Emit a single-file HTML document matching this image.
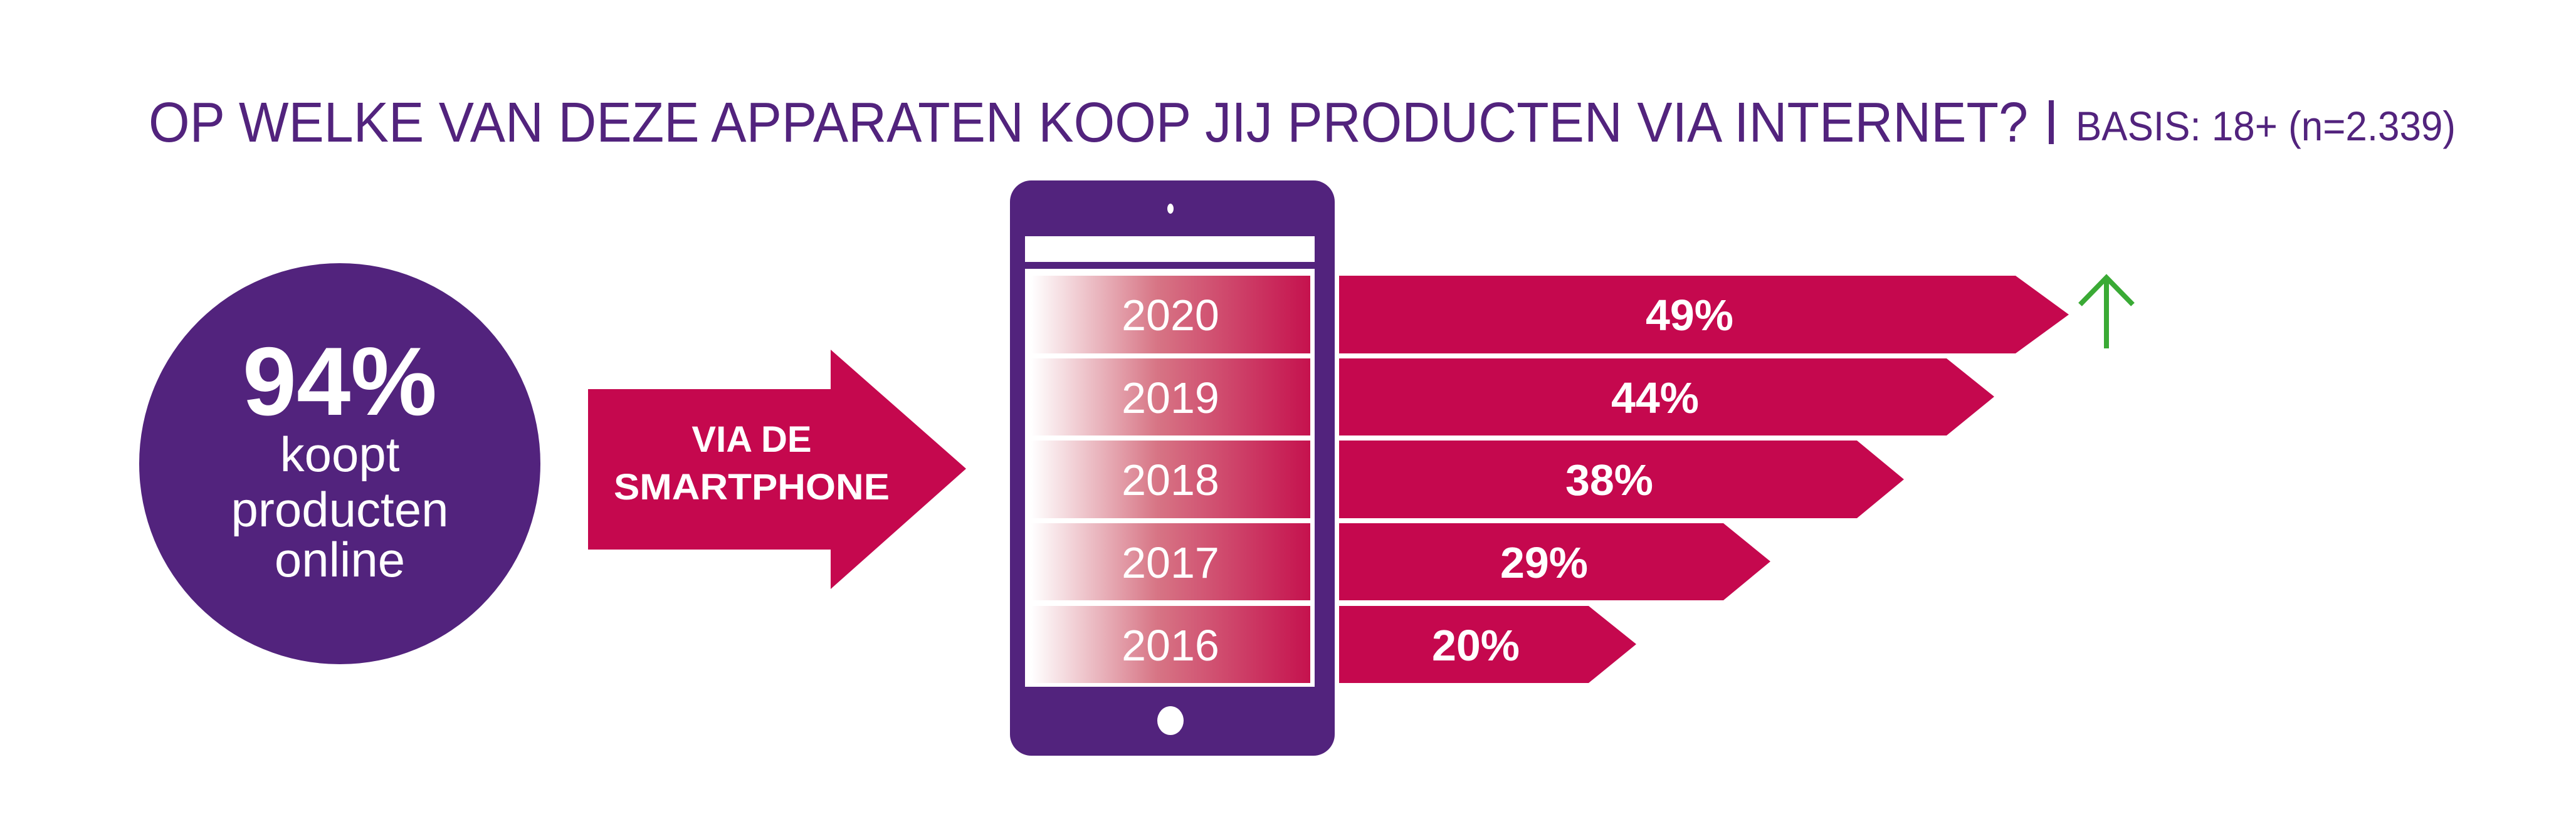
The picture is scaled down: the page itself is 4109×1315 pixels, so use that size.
<!DOCTYPE html>
<html><head><meta charset="utf-8"><style>
html,body{margin:0;padding:0;background:#fff;}
svg{display:block;}
text{font-family:"Liberation Sans",sans-serif;}
</style></head><body>
<svg width="4109" height="1315" viewBox="0 0 4109 1315" xmlns="http://www.w3.org/2000/svg">
<defs>
<linearGradient id="g" x1="0" x2="1" y1="0" y2="0">
<stop offset="0" stop-color="#ffffff"/>
<stop offset="0.45" stop-color="#d77585"/>
<stop offset="1" stop-color="#c5124e"/>
</linearGradient>
</defs>
<!-- title -->
<text x="237" y="226" font-size="90" fill="#52237d" textLength="2998" lengthAdjust="spacingAndGlyphs">OP WELKE VAN DEZE APPARATEN KOOP JIJ PRODUCTEN VIA INTERNET?</text>
<rect x="3268" y="160" width="8" height="70" fill="#52237d"/>
<text x="3311" y="224" font-size="66" fill="#52237d" textLength="606" lengthAdjust="spacingAndGlyphs">BASIS: 18+ (n=2.339)</text>

<!-- circle -->
<circle cx="542" cy="740" r="320" fill="#52237d"/>
<text x="542" y="662" font-size="155" font-weight="bold" fill="#fff" text-anchor="middle">94%</text>
<text x="542" y="752" font-size="78" fill="#fff" text-anchor="middle">koopt</text>
<text x="542" y="840" font-size="78" fill="#fff" text-anchor="middle">producten</text>
<text x="542" y="920" font-size="78" fill="#fff" text-anchor="middle">online</text>

<!-- arrow -->
<polygon points="938,621 1325,621 1325,558 1541,748 1325,940 1325,877 938,877" fill="#c5084e"/>
<text x="1199" y="721" font-size="58" font-weight="bold" fill="#fff" text-anchor="middle">VIA DE</text>
<text x="1199" y="797" font-size="58" font-weight="bold" fill="#fff" text-anchor="middle" textLength="440" lengthAdjust="spacingAndGlyphs">SMARTPHONE</text>

<!-- phone -->
<rect x="1611" y="288" width="518" height="918" rx="34" fill="#52237d"/>
<ellipse cx="1867" cy="333" rx="5" ry="8" fill="#fff"/>
<ellipse cx="1867" cy="1150" rx="21" ry="23" fill="#fff"/>
<rect x="1635" y="377" width="462" height="41" fill="#fff"/>
<rect x="1635" y="429" width="462" height="667" fill="#fff"/>
<g fill="url(#g)">
<rect x="1645" y="440" width="445" height="124"/>
<rect x="1645" y="572" width="445" height="123"/>
<rect x="1645" y="703" width="445" height="124"/>
<rect x="1645" y="835" width="445" height="123"/>
<rect x="1645" y="967" width="445" height="123"/>
</g>
<g font-size="70" fill="#fff" text-anchor="middle">
<text x="1867" y="527">2020</text>
<text x="1867" y="659">2019</text>
<text x="1867" y="790">2018</text>
<text x="1867" y="922">2017</text>
<text x="1867" y="1054">2016</text>
</g>

<!-- bars -->
<g fill="#c5084e">
<polygon points="2136,440 3215,440 3300,502 3215,564 2136,564"/>
<polygon points="2136,572 3105,572 3181,633 3105,695 2136,695"/>
<polygon points="2136,703 2962,703 3037,765 2962,827 2136,827"/>
<polygon points="2136,835 2749,835 2824,896 2749,958 2136,958"/>
<polygon points="2136,967 2534,967 2610,1028 2534,1090 2136,1090"/>
</g>
<g font-size="70" font-weight="bold" fill="#fff" text-anchor="middle">
<text x="2695" y="527">49%</text>
<text x="2640" y="659">44%</text>
<text x="2567" y="790">38%</text>
<text x="2463" y="922">29%</text>
<text x="2354" y="1054">20%</text>
</g>

<!-- green arrow -->
<g stroke="#3aaa35" stroke-width="8" fill="none">
<line x1="3360" y1="445" x2="3360" y2="556"/>
<polyline points="3318,486 3360,443 3402,486"/>
</g>
</svg>
</body></html>
